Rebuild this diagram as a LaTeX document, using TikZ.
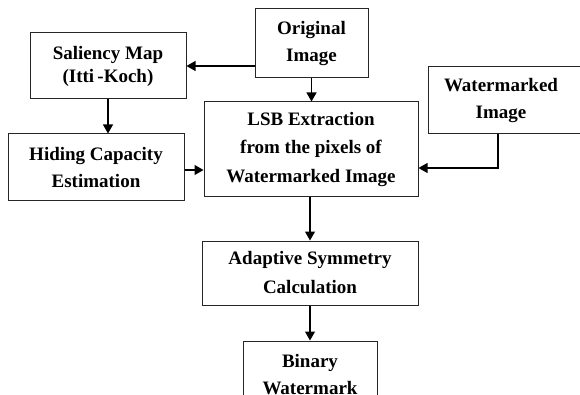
\documentclass[tikz,border=0pt]{standalone}
\usepackage{fontspec}
\setmainfont{Liberation Serif}
\usetikzlibrary{arrows.meta}
\begin{document}
\begin{tikzpicture}[x=1pt,y=-1pt,
  blk/.style={draw=black!85,line width=1pt,fill=white,align=center,
    font=\fontsize{19}{27}\selectfont\bfseries,inner sep=0pt},
  lbl/.style={font=\fontsize{19}{27}\selectfont\bfseries,align=center},
  arr/.style={line width=1.1pt,-{Triangle[length=9pt,width=10pt]}}]
\useasboundingbox (0,0) rectangle (580,395);
\begin{scope}
\clip (0,0) rectangle (580,395);
\node[blk,minimum width=156pt,minimum height=66pt,font=\fontsize{19}{23}\selectfont\bfseries] (sal) at (108,66) {Saliency Map\\(Itti\,-Koch)};
\node[blk,minimum width=113pt,minimum height=69pt] (orig) at (311.5,43.5) {Original\\Image};
\node[blk,minimum width=176pt,minimum height=67pt] (hid) at (96,167.5) {Hiding Capacity\\Estimation};
\node[blk,minimum width=214pt,minimum height=95pt,font=\fontsize{19}{28.5}\selectfont\bfseries] (lsb) at (311,149.5) {LSB Extraction\\from the pixels of\\Watermarked Image};
\node[blk,minimum width=160pt,minimum height=67pt] (wm) at (508,100.5) {};
\node[lbl] (wmt) at (501,100.5) {Watermarked\\Image};
\node[blk,minimum width=216pt,minimum height=64pt,font=\fontsize{19}{29}\selectfont\bfseries] (ada) at (310,273) {Adaptive Symmetry\\Calculation};
\node[blk,minimum width=134pt,minimum height=72pt,anchor=north] (bin) at (310,340.5) {};
\node[lbl,anchor=north] (bint) at (310,351) {Binary\\Watermark};

\draw[arr] (orig.west |- sal.east) -- (sal.east);
\draw[arr] (sal.south) -- (hid.north -| sal.south);
\draw[arr] (orig.south) -- (lsb.north -| orig.south);
\draw[arr] (hid.east |- 0,170) -- (lsb.west |- 0,170);
\draw[arr] (wm.south -| 498,0) |- (lsb.east |- 0,168);
\draw[arr] (lsb.south -| ada.north) -- (ada.north);
\draw[arr] (ada.south) -- (bin.north);
\end{scope}
\end{tikzpicture}
\end{document}
